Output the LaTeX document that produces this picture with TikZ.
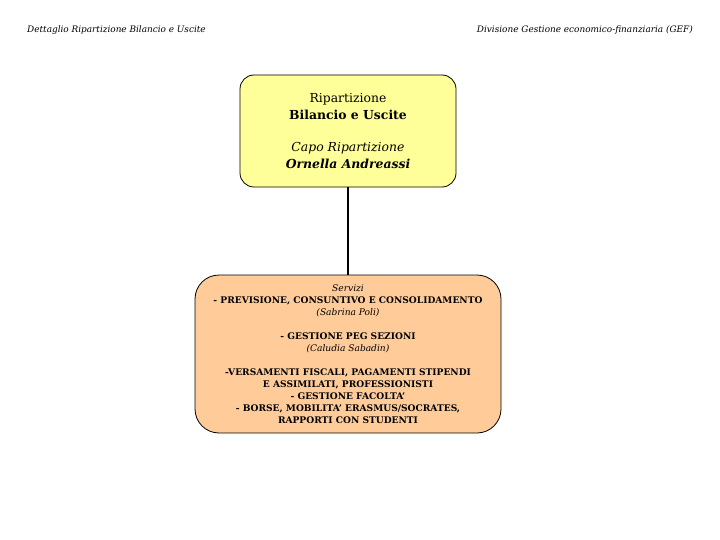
\documentclass[tikz,border=0pt]{standalone}
\usepackage{fontspec}
\setmainfont{DejaVu Serif}
\usepackage{tikz}

\definecolor{giallo}{RGB}{255,255,153}
\definecolor{pesca}{RGB}{255,204,153}

\tikzset{
  ufficio/.style={draw, thick, rounded corners=14pt, align=center, inner sep=0pt},
  testata/.style={font=\fontsize{8.9}{10}\selectfont\itshape, inner sep=0pt}
}

\begin{document}
\begin{tikzpicture}[x=1pt, y=-1pt]
\useasboundingbox (0,0) rectangle (720,540);
\node[testata, anchor=west] (sx) at (27,30) {Dettaglio Ripartizione Bilancio e Uscite};
\node[testata, anchor=east] (dx) at (693,30) {Divisione Gestione economico-finanziaria (GEF)};
\node[ufficio, fill=giallo, minimum width=216pt, minimum height=112pt,
  font=\fontsize{12.4}{16.5}\selectfont] (rip) at (348,131)
  {Ripartizione\\ \textbf{Bilancio e Uscite}\\[16pt]
   \textit{Capo Ripartizione}\\ \textbf{\textit{Ornella Andreassi}}};
\node[ufficio, fill=pesca, rounded corners=24pt, minimum width=306pt, minimum height=158pt,
  font=\fontsize{9.1}{12}\selectfont] (serv) at (348,354)
  {\textit{Servizi}\\
   \textbf{- PREVISIONE, CONSUNTIVO E CONSOLIDAMENTO}\\
   \textit{(Sabrina Poli)}\\[12pt]
   \textbf{- GESTIONE PEG SEZIONI}\\
   \textit{(Caludia Sabadin)}\\[12pt]
   \textbf{-VERSAMENTI FISCALI, PAGAMENTI STIPENDI}\\
   \textbf{E ASSIMILATI, PROFESSIONISTI}\\
   \textbf{- GESTIONE FACOLTA'}\\
   \textbf{- BORSE, MOBILITA' ERASMUS/SOCRATES,}\\
   \textbf{RAPPORTI CON STUDENTI}};
\draw[line width=2.5pt] (rip) -- (serv);
\end{tikzpicture}
\end{document}
